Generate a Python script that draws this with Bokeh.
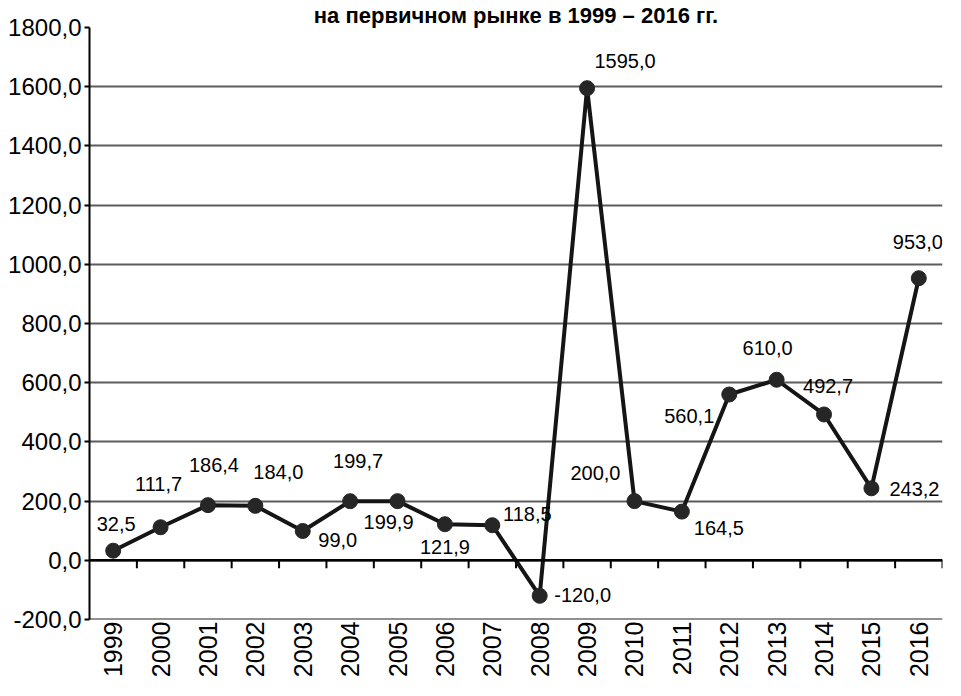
from bokeh.plotting import figure
from bokeh.models import ColumnDataSource, FixedTicker, Span, FactorRange
from bokeh.transform import dodge
from bokeh.core.properties import value
from bokeh.embed import file_html
from bokeh.resources import INLINE
import math

# ---- data ----
title_text = "на первичном рынке в 1999 – 2016 гг."
years = ["1999", "2000", "2001", "2002", "2003", "2004", "2005", "2006", "2007",
         "2008", "2009", "2010", "2011", "2012", "2013", "2014", "2015", "2016"]
values = [32.5, 111.7, 186.4, 184.0, 99.0, 199.7, 199.9, 121.9, 118.5,
          -120.0, 1595.0, 200.0, 164.5, 560.1, 610.0, 492.7, 243.2, 953.0]
y_ticks = [-200, 0, 200, 400, 600, 800, 1000, 1200, 1400, 1600, 1800]

# ---- label placement (screen px, style only) ----
label_dx = [3, -2, 6, 23, 35, 8, -9, 0, 35, 43, 38, -39, 37, -40, -9, 4, 43, -1]
label_dy = [-27, -43, -40, -34, 9, -40, 21, 23, -11, -1, -27, -28, 16, 21, -32, -28, 1, -36]

FONT = "Liberation Sans"

labels = [f"{v:.1f}".replace(".", ",") for v in values]
src = ColumnDataSource(dict(year=years, value=values, label=labels,
                            dx=label_dx, dy=label_dy))

p = figure(x_range=FactorRange(*years), y_range=(-200, 1800),
           width=945, height=680, output_backend="svg", toolbar_location=None,
           min_border_left=89, min_border_right=3, min_border_bottom=60, min_border_top=0)

p.title.text = title_text
p.title.align = "center"
p.title.text_font = FONT
p.title.text_font_size = "22px"
p.title.text_font_style = "bold"
p.title.text_color = "black"
p.title.standoff = 0
p.title.offset = 0

p.outline_line_color = None
p.background_fill_color = "white"
p.border_fill_color = "white"

# grid
p.xgrid.grid_line_color = None
p.ygrid.ticker = FixedTicker(ticks=y_ticks)
p.ygrid.grid_line_color = "#5c5c5c"
p.ygrid.grid_line_width = 2

# y axis
p.yaxis.ticker = FixedTicker(ticks=y_ticks)
p.yaxis.major_label_overrides = {t: f"{t:.1f}".replace(".", ",") for t in y_ticks}
p.yaxis.axis_line_color = "black"
p.yaxis.axis_line_width = 2
p.yaxis.major_tick_line_color = "black"
p.yaxis.major_tick_line_width = 2
p.yaxis.major_tick_out = 5
p.yaxis.major_tick_in = 0
p.yaxis.minor_tick_line_color = None
p.yaxis.major_label_text_font = FONT
p.yaxis.major_label_text_font_size = "24px"
p.yaxis.major_label_text_color = "black"
p.yaxis.major_label_standoff = 3

# x axis
p.xaxis.axis_line_color = None
p.xaxis.major_tick_line_color = None
p.xaxis.major_tick_out = 0
p.xaxis.major_tick_in = 0
p.xaxis.minor_tick_out = 0
p.xaxis.major_label_orientation = math.pi / 2
p.xaxis.major_label_text_font = FONT
p.xaxis.major_label_text_font_size = "25px"
p.xaxis.major_label_text_color = "black"
p.xaxis.major_label_standoff = 2

# zero line + ticks between categories
p.add_layout(Span(location=0, dimension="width", line_color="black", line_width=2.5))
p.add_layout(Span(location=-200, dimension="width", line_color="#222222", line_width=2))
p.segment(x0=dodge("year", 0.5, range=p.x_range), y0=0,
          x1=dodge("year", 0.5, range=p.x_range), y1=-27,
          source=src, line_color="black", line_width=2)

# series
p.line(x="year", y="value", source=src, line_color="#151515", line_width=4)
p.scatter(x="year", y="value", source=src, size=15, fill_color="#262626",
          line_color="#262626")

p.text(x="year", y="value", text="label", source=src, x_offset="dx", y_offset="dy",
       text_font=value(FONT), text_font_size="20px", text_color="black",
       text_align="center", text_baseline="middle")

open("out.html", "w").write(file_html(p, INLINE))
